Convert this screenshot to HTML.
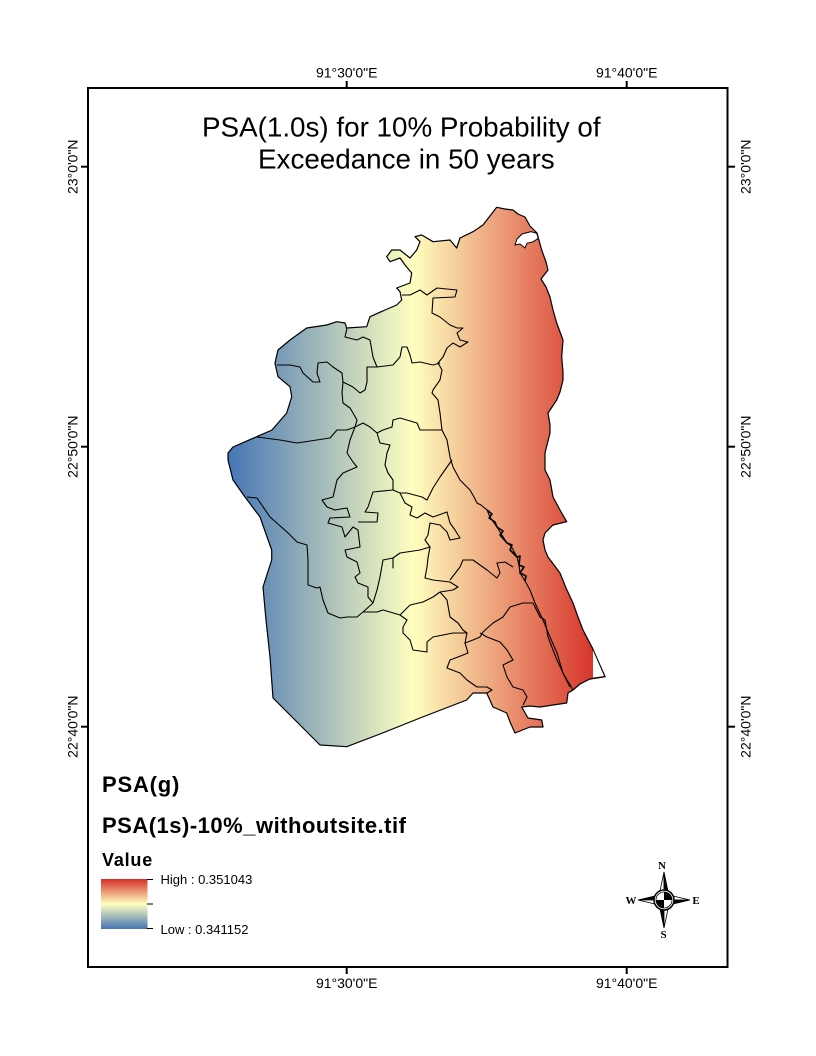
<!DOCTYPE html>
<html><head><meta charset="utf-8"><style>
html,body{margin:0;padding:0;background:#fff;}
body{width:816px;height:1056px;overflow:hidden;}
svg{display:block;}
</style></head><body>
<svg width="816" height="1056" viewBox="0 0 816 1056" xmlns="http://www.w3.org/2000/svg">
<defs>
<linearGradient id="ramp" gradientUnits="userSpaceOnUse" x1="228" y1="0" x2="598" y2="0">
<stop offset="0" stop-color="#4575b5"/>
<stop offset="0.5" stop-color="#ffffbf"/>
<stop offset="1" stop-color="#d62f27"/>
</linearGradient>
<linearGradient id="leg" x1="0" y1="0" x2="0" y2="1">
<stop offset="0" stop-color="#d62f27"/>
<stop offset="0.5" stop-color="#ffffbf"/>
<stop offset="1" stop-color="#4575b5"/>
</linearGradient>
</defs>
<rect width="816" height="1056" fill="#fff"/>

<!-- map polygon -->
<polygon fill="url(#ramp)" stroke="#000" stroke-width="1.2" stroke-linejoin="round" points="
496.7,207.3 505,209 513,210 518,214 525,217 530,226 537,233 541.7,250 546,262 548,270 541,279 546,287 550,297 553,310 556.7,323 563,340 561.7,357 563,372 563,380 560,392 556.7,400 548,413 550,425 550,433 545,453 545,470 550,480 553,497 560,510 566.7,521.7 553,525 545,533 543,540 545,550 548,557 560,573 566,588 573,603 578,617 583,630 591.7,646.7 605,676.7 590,679 580,684 573,690 568,693 566.7,703 553,705 540,707 530,706 521.7,707 528,718 541.7,720 543,727 530,727 515,733 510,722 506.7,713 493,707 486.7,693 473,693 466.7,700 420,718 380,734 346.7,746.7 320,745 273,698 270,657 266,620 263,587 271.7,560 271.7,550 260,517 245,497 233,480 228,460 228,453 233,447 256.7,436.7 272,430 286.7,413 291.7,396.7 290,386.7 278,376.7 275,363 278,350 290,340 306.7,328 326.7,325 336.7,321.7 345,323 346.7,328 366.7,326.7 370,316.7 385,310 396.7,305 401.7,300 400,291.7 396.7,288 410,283 411.7,273 405,265 400,258 390,261.7 386.7,256.7 391.7,250 400,250 410,258 416.7,250 420,241.7 415,236.7 421.7,235 433,241.7 450,240 456.7,248 460,238 473,231.7 483,225"/>
<!-- white triangle at SE -->
<polygon fill="#fff" stroke="none" points="593,649 604,676 593,677.5"/>
<polyline fill="none" stroke="#000" stroke-width="1" points="592,647 605,676.7 590,679"/>
<!-- white pocket near top -->
<path d="M515,245 L517,239 L522,234 L531,231.7 L536.7,233.3 L538.3,238.3 L533.3,241.7 L527,243.3 L525,248 L520,244 Z" fill="#fff" stroke="#000" stroke-width="1"/>

<g fill="none" stroke="#000" stroke-width="1.1" stroke-linejoin="round">
<!-- coastal line -->
<polyline points="402,295 410,295 420,290 427,295 437,288 457,290 455,297 433,298 432,313 440,317 450,325 457,328 463,328 457,333 460,340 468,342 460,347 453,343 447,348 443,357 438,363 442,370 440,380 433,390 432,393 438,400 440,413 442,430 447,440 450,457 453,467 460,480 466,486 470,490 474,497 477,503 481,505 487,510 490,517 497,527 500,532 507,543 511,546 517,557 519,565 520,573 525,581 530,590 535,603 543,620 550,637 557,653 563,673 573,690"/>
<polyline stroke-width="1.6" points="487,510 492,514 489,518 495,522 497,527 503,531 500,535 507,543 512,545 510,550 517,557 520,556 519,565 524,567 520,573 526,576 525,581"/>
<polyline points="257,437 280,440 297,443 330,438 337,430 347,430 355,427 363,423 370,427 377,433 383,430 392,427 393,420 400,418 417,423 420,430 433,430 442,430"/>
<polyline points="347,328 345,337 357,340 363,337 370,340 373,357 377,367 393,365 400,357 402,347 407,347 410,355 412,363 420,362 433,365 440,363"/>
<polyline points="277,365 290,365 300,367 303,373 313,382 320,382 317,373 318,363 327,362 333,367 342,373 343,382 353,387 360,393 365,390 367,382 367,367 377,367"/>
<polyline points="343,382 342,393 343,403 350,408 353,413 357,420 355,427 350,440 347,453 353,462 357,467 343,473 337,480 333,497 322,500 327,507 335,510 347,508 350,517 330,518 328,523 342,527 345,537 353,527 358,530 360,547 345,550 347,557 357,562 360,573 355,577 358,583 368,587 368,597 373,603"/>
<polyline points="377,433 380,443 390,445 387,453 385,465 388,473 393,480 393,490 373,492 368,507 365,512 378,513 377,522 358,522"/>
<polyline points="393,490 400,493 405,503 412,507 410,515 417,518 425,513 433,517 447,512 450,523 455,530 460,538 450,540 447,532 440,525 430,523 428,535 425,540 430,547"/>
<polyline points="400,493 407,493 422,497 427,500 433,488 440,477 447,467 452,460"/>
<polyline points="247,497 257,498 270,517 287,532 297,542 307,545 308,560 308,585 317,588 320,587 323,600 328,613 340,618 347,617 357,617 363,612 373,603 377,590 380,577 383,560 393,558 393,568 393,558 400,553 420,550 430,547 428,558 427,567 425,578 433,580 450,582 458,587 453,590 440,592"/>
<polyline points="363,612 377,612 383,610 390,612 400,615 407,620 403,627 403,633 410,640 413,650 427,652 427,642 433,637 453,633 467,633 463,630 458,623 450,617 447,600 440,592"/>
<polyline points="400,615 410,605 423,602 433,597 440,592"/>
<polyline points="450,580 460,567 463,560 473,560 487,570 497,578 500,573 497,563 505,562 513,567"/>
<polyline points="533,603 523,603 510,607 503,617 493,623 483,632 480,637 473,640 465,643"/>
<polyline points="467,633 465,643 468,653 458,657 450,660 447,668 460,673 467,680 477,687 487,687 492,690 487,693"/>
<polyline points="480,633 487,637 500,642 507,650 513,660 503,665 507,677 513,687 523,690 527,697 523,705"/>
<polyline points="533,603 540,617 545,620 548,637 553,650 557,660 563,673 570,687"/>
</g>

<!-- frame -->
<rect x="88" y="88" width="639.5" height="879" fill="none" stroke="#000" stroke-width="2"/>
<g stroke="#000" stroke-width="2">
<line x1="346.7" y1="81" x2="346.7" y2="88"/>
<line x1="626.7" y1="81" x2="626.7" y2="88"/>
<line x1="346.7" y1="967" x2="346.7" y2="974"/>
<line x1="626.7" y1="967" x2="626.7" y2="974"/>
<line x1="81" y1="166.7" x2="88" y2="166.7"/>
<line x1="81" y1="446.7" x2="88" y2="446.7"/>
<line x1="81" y1="726.7" x2="88" y2="726.7"/>
<line x1="727" y1="166.7" x2="735" y2="166.7"/>
<line x1="727" y1="446.7" x2="735" y2="446.7"/>
<line x1="727" y1="726.7" x2="735" y2="726.7"/>
</g>

<g font-family="Liberation Sans, Arial, sans-serif" font-size="14" fill="#000" text-anchor="middle">
<text x="346.7" y="77.3">91°30'0"E</text>
<text x="626.7" y="77.3">91°40'0"E</text>
<text x="346.7" y="988">91°30'0"E</text>
<text x="626.7" y="988">91°40'0"E</text>
<text transform="translate(77.3,166.7) rotate(-90)">23°0'0"N</text>
<text transform="translate(77.3,446.7) rotate(-90)">22°50'0"N</text>
<text transform="translate(77.3,726.7) rotate(-90)">22°40'0"N</text>
<text transform="translate(750.3,166.7) rotate(-90)">23°0'0"N</text>
<text transform="translate(750.3,446.7) rotate(-90)">22°50'0"N</text>
<text transform="translate(750.3,726.7) rotate(-90)">22°40'0"N</text>
</g>

<!-- title -->
<g font-family="Liberation Sans, Arial, sans-serif" font-size="27.8" fill="#000">
<text x="202" y="136.7">PSA(1.0s) for 10% Probability of</text>
<text x="258" y="168.3">Exceedance in 50 years</text>
</g>

<!-- legend -->
<g font-family="Liberation Sans, Arial, sans-serif" font-weight="bold" fill="#000">
<text x="102" y="792" font-size="22" letter-spacing="0.8">PSA(g)</text>
<text x="102" y="833" font-size="22" letter-spacing="0.5">PSA(1s)-10%_withoutsite.tif</text>
<text x="102" y="866" font-size="18" letter-spacing="0.8">Value</text>
</g>
<rect x="101" y="879" width="46.5" height="50" fill="url(#leg)"/>
<g stroke="#000" stroke-width="1">
<line x1="147" y1="879.5" x2="153" y2="879.5"/>
<line x1="147" y1="904" x2="153" y2="904"/>
<line x1="147" y1="928.5" x2="153" y2="928.5"/>
</g>
<g font-family="Liberation Sans, Arial, sans-serif" font-size="13" fill="#000">
<text x="160.5" y="884">High : 0.351043</text>
<text x="160.5" y="934">Low : 0.341152</text>
</g>

<!-- north arrow -->
<g stroke="#000" stroke-width="0.8" stroke-linejoin="miter">
<polygon points="664,872 660,891 664,891" fill="#fff"/>
<polygon points="664,872 668,891 664,891" fill="#000"/>
<polygon points="664,928 660,909 664,909" fill="#000"/>
<polygon points="664,928 668,909 664,909" fill="#fff"/>
<polygon points="638,900 655,896 655,900" fill="#000"/>
<polygon points="638,900 655,904 655,900" fill="#fff"/>
<polygon points="690,900 673,896 673,900" fill="#fff"/>
<polygon points="690,900 673,904 673,900" fill="#000"/>
<circle cx="664" cy="900" r="10" fill="#fff" stroke="#000" stroke-width="1.5"/>
<path d="M664,900 L664,892 A8,8 0 0 1 672,900 Z" fill="#000" stroke="none"/>
<path d="M664,900 L664,908 A8,8 0 0 1 656,900 Z" fill="#000" stroke="none"/>
<circle cx="664" cy="900" r="8" fill="none" stroke="#000" stroke-width="0.8"/>
</g>
<g font-family="Liberation Serif, Times New Roman, serif" font-size="11" font-weight="bold" fill="#000" text-anchor="middle">
<text x="662" y="869">N</text>
<text x="663.5" y="938">S</text>
<text x="631" y="904">W</text>
<text x="696" y="904">E</text>
</g>
</svg>
</body></html>
